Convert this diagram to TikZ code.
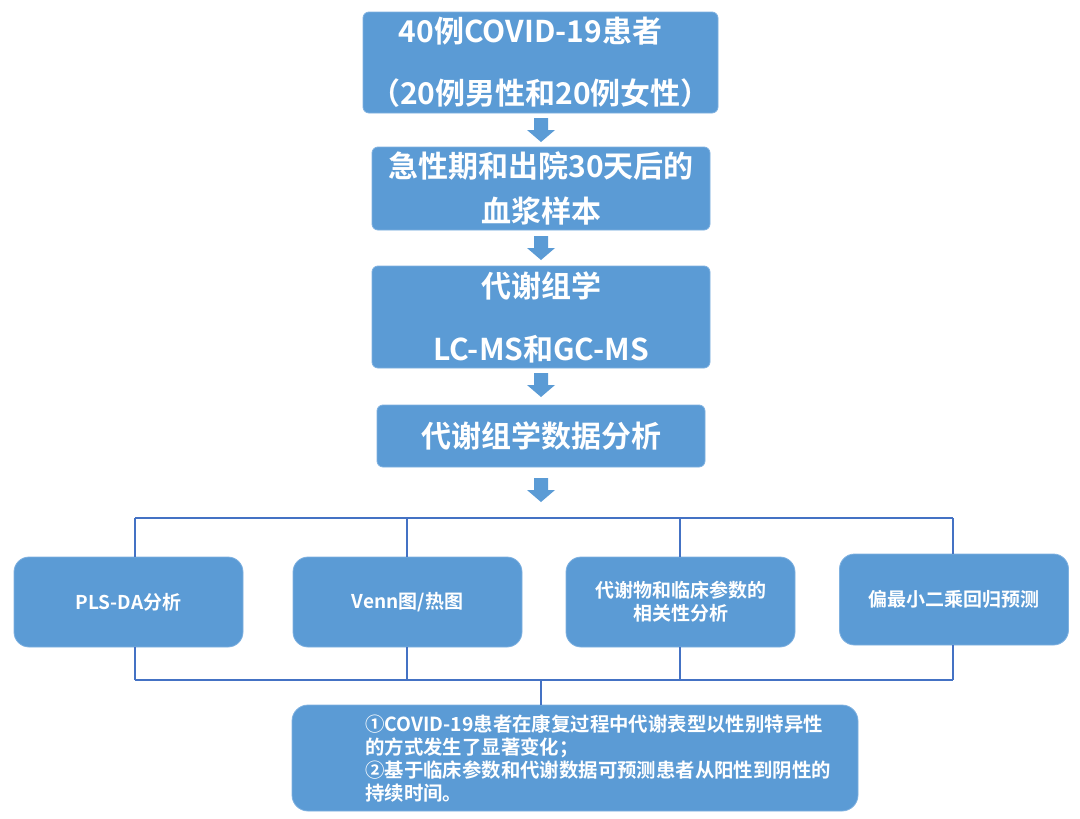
\documentclass[tikz,border=0pt]{standalone}
\usepackage{fontspec}
\newfontfamily\cjk{Noto Sans CJK SC}[BoldFont={Noto Sans CJK SC Bold}]
\definecolor{boxblue}{HTML}{5B9BD5}
\definecolor{boxedge}{HTML}{7FB1E0}
\definecolor{linecol}{HTML}{4472C4}
\tikzset{
  mainbox/.style={fill=boxblue, draw=boxedge, line width=0.8pt, rounded corners=6pt,
    text=white, align=center, inner sep=0pt},
  subbox/.style={fill=boxblue, draw=boxedge, line width=0.8pt, rounded corners=15pt,
    text=white, align=center, inner sep=0pt, minimum width=229pt, minimum height=90pt,
    font={\cjk\bfseries\fontsize{19}{23}\selectfont}},
  bus/.style={draw=linecol, line width=1.1pt},
  downarr/.pic={\fill[boxblue] (-7,-12) -- (7,-12) -- (7,0) -- (14,0) -- (0,12) -- (-14,0) -- (-7,0) -- cycle;}
}
\begin{document}
\begin{tikzpicture}[x=1pt,y=-1pt]
\useasboundingbox (0,0) rectangle (1080,819);
% main column
\node[mainbox, minimum width=355pt, minimum height=101pt,
  font={\cjk\bfseries\fontsize{30}{62}\selectfont}] (b1) at (540.5,62.5)
  {40例COVID-19患者\hspace*{20pt}\\（20例男性和20例女性）};
\pic (a1) at (541,130) {downarr};
\node[mainbox, minimum width=338pt, minimum height=83pt,
  font={\cjk\bfseries\fontsize{30}{45}\selectfont}] (b2) at (541,188.5)
  {急性期和出院30天后的\\血浆样本};
\pic (a2) at (541,248) {downarr};
\node[mainbox, minimum width=338pt, minimum height=102pt,
  font={\cjk\bfseries\fontsize{30}{63}\selectfont}] (b3) at (541,317)
  {代谢组学\\LC-MS和GC-MS};
\pic (a3) at (541,385) {downarr};
\node[mainbox, minimum width=328pt, minimum height=62pt,
  font={\cjk\bfseries\fontsize{30}{36}\selectfont}] (b4) at (541,436)
  {代谢组学数据分析};
\pic (a4) at (541,490) {downarr};
% analysis boxes
\node[subbox] (sA) at (128.5,602) {PLS-DA分析};
\node[subbox] (sB) at (407.5,602) {Venn图/热图};
\node[subbox] (sC) at (680.5,602) {代谢物和临床参数的\\相关性分析};
\node[subbox, minimum height=91pt] (sD) at (954,599.5) {偏最小二乘回归预测};
% result box
\node[mainbox, rounded corners=16pt, minimum width=566pt, minimum height=106pt] (R) at (575,758) {};
\node[anchor=west, text=white, align=left, inner sep=0pt,
  font={\cjk\bfseries\fontsize{19.4}{23}\selectfont}] (Rt) at (365,759)
  {①COVID-19患者在康复过程中代谢表型以性别特异性\\的方式发生了显著变化；\\②基于临床参数和代谢数据可预测患者从阳性到阴性的\\持续时间。};
% bus lines
\coordinate (tA) at (135,518);
\coordinate (tB) at (407,518);
\coordinate (tC) at (680,518);
\coordinate (tD) at (953,518);
\coordinate (uA) at (135,680);
\coordinate (uB) at (407,680);
\coordinate (uC) at (680,680);
\coordinate (uD) at (953,680);
\coordinate (uM) at (541,680);
\draw[bus] (tA) -- (tD);
\draw[bus] (tA) -- (tA |- sA.north);
\draw[bus] (tB) -- (tB |- sB.north);
\draw[bus] (tC) -- (tC |- sC.north);
\draw[bus] (tD) -- (tD |- sD.north);
\draw[bus] (uA) -- (uD);
\draw[bus] (uA) -- (uA |- sA.south);
\draw[bus] (uB) -- (uB |- sB.south);
\draw[bus] (uC) -- (uC |- sC.south);
\draw[bus] (uD) -- (uD |- sD.south);
\draw[bus] (uM) -- (uM |- R.north);
\end{tikzpicture}
\end{document}
